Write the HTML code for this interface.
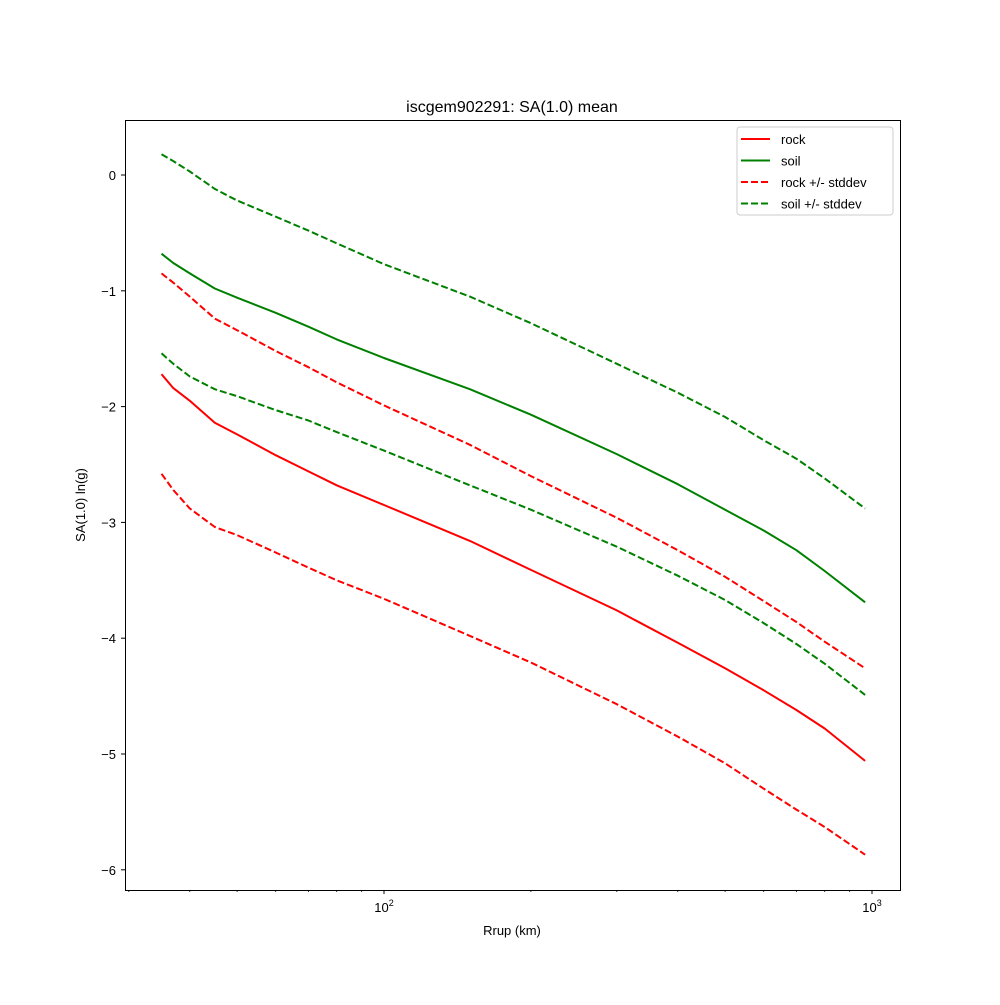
<!DOCTYPE html>
<html><head><meta charset="utf-8"><style>
body{margin:0;background:#fff}
svg text{font-family:"Liberation Sans","DejaVu Sans",sans-serif;fill:#000}
</style></head><body>
<svg id="chart" width="1000" height="1000" xmlns="http://www.w3.org/2000/svg">
<rect width="1000" height="1000" fill="#fff"/>
<text x="512" y="112" font-size="16" text-anchor="middle">iscgem902291: SA(1.0) mean</text>
<g id="ticks"></g>
<g id="series"></g>
<rect x="125.5" y="120.5" width="775" height="770" fill="none" stroke="#000" stroke-width="1"/>
<text x="512" y="935" font-size="13" text-anchor="middle">Rrup (km)</text>
<text transform="translate(85,505) rotate(-90)" font-size="13" text-anchor="middle">SA(1.0) ln(g)</text>
<g>
<rect x="737" y="127" width="156" height="88" rx="3" fill="#fff" stroke="#ccc"/>
<g id="legend-items"></g>
</g>
</svg>
<script>
const distances=[35,37,40,45,50,60,70,80,100,150,200,300,400,500,600,700,800,968];
const rock=[-1.72,-1.84,-1.95,-2.14,-2.24,-2.42,-2.56,-2.68,-2.85,-3.16,-3.41,-3.76,-4.04,-4.26,-4.45,-4.62,-4.78,-5.06];
const soil=[-0.68,-0.76,-0.85,-0.98,-1.06,-1.19,-1.31,-1.42,-1.58,-1.85,-2.07,-2.41,-2.67,-2.89,-3.07,-3.24,-3.42,-3.69];
const rockPlus=[-0.85,-0.93,-1.05,-1.24,-1.34,-1.52,-1.66,-1.79,-1.99,-2.33,-2.60,-2.96,-3.24,-3.47,-3.68,-3.86,-4.03,-4.26];
const rockMinus=[-2.58,-2.72,-2.88,-3.04,-3.11,-3.26,-3.39,-3.50,-3.66,-3.98,-4.21,-4.57,-4.85,-5.08,-5.30,-5.48,-5.63,-5.87];
const soilPlus=[0.18,0.12,0.03,-0.12,-0.22,-0.36,-0.48,-0.59,-0.77,-1.05,-1.28,-1.63,-1.88,-2.09,-2.29,-2.45,-2.62,-2.88];
const soilMinus=[-1.54,-1.63,-1.74,-1.85,-1.91,-2.03,-2.12,-2.22,-2.38,-2.68,-2.89,-3.21,-3.46,-3.67,-3.87,-4.05,-4.22,-4.49];
const yTicks=[0,-1,-2,-3,-4,-5,-6];
const xMajor=[100,1000];
const xMinor=[30,40,50,60,70,80,90,200,300,400,500,600,700,800,900];

const NS="http://www.w3.org/2000/svg";
function xs(d){return 384+488*(Math.log10(d)-2);}
function ys(v){return 175-115.8*v;}
function mk(tag,attrs,parent){const e=document.createElementNS(NS,tag);for(const k in attrs)e.setAttribute(k,attrs[k]);parent.appendChild(e);return e;}
const ticks=document.getElementById('ticks');
yTicks.forEach(v=>{
  const y=ys(v);
  const t=mk('line',{x1:121,x2:125,y1:y,y2:y,stroke:'#000'},ticks);
  
  
  const l=mk('text',{x:116,y:y+5,'font-size':13,'text-anchor':'end'},ticks);
  l.textContent=v<0?'\u2212'+(-v):String(v);
  
  
});
xMajor.forEach(d=>{
  const x=xs(d);
  const t=mk('line',{x1:x,x2:x,y1:890,y2:894,stroke:'#000'},ticks);
  
  
  const l=mk('text',{x:x,y:912,'font-size':13,'text-anchor':'middle'},ticks);
  l.innerHTML='10<tspan dy="-6" font-size="9">'+Math.round(Math.log10(d))+'</tspan>';
  
  
});
xMinor.forEach(d=>{
  const x=xs(d);
  const t=mk('line',{x1:x,x2:x,y1:890,y2:892,stroke:'#000','stroke-width':0.8},ticks);
  
  
});
const series=[
 {name:'rock-line',vals:rock,color:'#ff0000',dash:''},
 {name:'soil-line',vals:soil,color:'#008000',dash:''},
 {name:'rock-plus-stddev-line',vals:rockPlus,color:'#ff0000',dash:'7,3'},
 {name:'rock-minus-stddev-line',vals:rockMinus,color:'#ff0000',dash:'7,3'},
 {name:'soil-plus-stddev-line',vals:soilPlus,color:'#008000',dash:'7,3'},
 {name:'soil-minus-stddev-line',vals:soilMinus,color:'#008000',dash:'7,3'}
];
const sg=document.getElementById('series');
series.forEach(s=>{
  const pts=s.vals.map((v,i)=>xs(distances[i]).toFixed(1)+','+ys(v).toFixed(1)).join(' ');
  const p=mk('polyline',{points:pts,fill:'none',stroke:s.color,'stroke-width':2,'stroke-dasharray':s.dash,'stroke-linejoin':'round'},sg);
  
  
});
const legend=[['rock','#ff0000',''],['soil','#008000',''],['rock +/- stddev','#ff0000','7,3'],['soil +/- stddev','#008000','7,3']];
const lg=document.getElementById('legend-items');
legend.forEach((e,i)=>{
  const y=139+i*21.5;
  const ln=mk('line',{x1:741,x2:770,y1:y,y2:y,stroke:e[1],'stroke-width':2,'stroke-dasharray':e[2]},lg);
  
  
  const t=mk('text',{x:781,y:y+5,'font-size':13},lg);
  t.textContent=e[0];
  
  
});
</script>
</body></html>
